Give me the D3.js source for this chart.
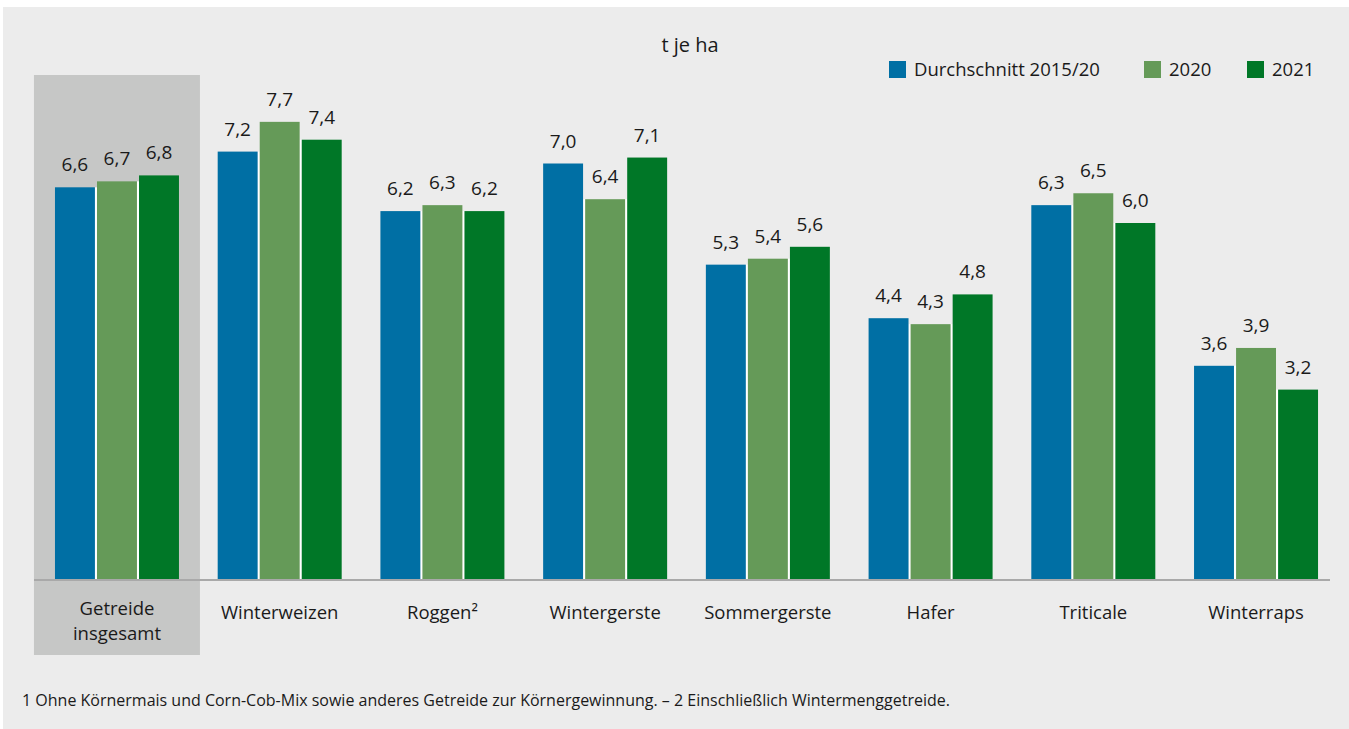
<!DOCTYPE html>
<html>
<head>
<meta charset="utf-8">
<script src="https://cdn.jsdelivr.net/npm/d3@7"></script>
<style>
  body { margin: 0; background: #fff; }
  svg { display: block; }
  text { font-family: "Open Sans", "Noto Sans", sans-serif; fill: #1a1a1a; }
</style>
</head>
<body>
<svg id="chart" width="1349" height="729"></svg>
<script>
var CATEGORIES = ['Getreide insgesamt', 'Winterweizen', 'Roggen²', 'Wintergerste',
  'Sommergerste', 'Hafer', 'Triticale', 'Winterraps'];
var SERIES = ['Durchschnitt 2015/20', '2020', '2021'];
var AVG_2015_20 = [6.6, 7.2, 6.2, 7.0, 5.3, 4.4, 6.3, 3.6];
var YEAR_2020 = [6.7, 7.7, 6.3, 6.4, 5.4, 4.3, 6.5, 3.9];
var YEAR_2021 = [6.8, 7.4, 6.2, 7.1, 5.6, 4.8, 6.0, 3.2];
var COLORS = ['#006fa4', '#659a58', '#007727'];

var rows = CATEGORIES.map(function(c, i){
  return { cat: c, values: [AVG_2015_20[i], YEAR_2020[i], YEAR_2021[i]] };
});

var svg = d3.select('#chart');
var W = 1349, H = 729;
var baseY = 580;

svg.append('rect')
  .attr('x', 3).attr('y', 7)
  .attr('width', W - 3).attr('height', H - 7)
  .attr('fill', '#ececec');

var x0 = d3.scaleBand()
  .domain(CATEGORIES)
  .range([35.6, 1337.4])
  .paddingInner(0.238)
  .paddingOuter(0.119);

var x1 = d3.scaleBand()
  .domain(d3.range(SERIES.length))
  .range([0, x0.bandwidth()])
  .paddingInner(0.05);

var y = d3.scaleLinear()
  .domain([0, 8])
  .range([baseY, baseY - 476]);

var fmt = function(v){ return d3.format('.1f')(v).replace('.', ','); };

// highlight box behind the first category
svg.append('rect')
  .attr('x', x0(CATEGORIES[0]) - 21)
  .attr('y', 75)
  .attr('width', x0.bandwidth() + 42)
  .attr('height', 580)
  .attr('fill', '#c6c7c6');

var groups = svg.append('g').selectAll('g')
  .data(rows)
  .join('g')
  .attr('transform', function(d){ return 'translate(' + x0(d.cat) + ',0)'; });

// white separators between neighbouring bars
groups.selectAll('.gap')
  .data(function(d){
    return d.values.slice(1).map(function(v, i){ return { i: i + 1, v: Math.min(v, d.values[i]) }; });
  })
  .join('rect')
  .attr('class', 'gap')
  .attr('x', function(d){ return x1(d.i - 1) + x1.bandwidth(); })
  .attr('y', function(d){ return y(d.v); })
  .attr('width', x1(1) - x1.bandwidth())
  .attr('height', function(d){ return baseY - y(d.v); })
  .attr('fill', '#fff');

groups.selectAll('.bar')
  .data(function(d){ return d.values.map(function(v, i){ return { i: i, v: v }; }); })
  .join('rect')
  .attr('class', 'bar')
  .attr('x', function(d){ return x1(d.i); })
  .attr('y', function(d){ return y(d.v); })
  .attr('width', x1.bandwidth())
  .attr('height', function(d){ return baseY - y(d.v); })
  .attr('fill', function(d){ return COLORS[d.i]; });

groups.selectAll('.val')
  .data(function(d){ return d.values.map(function(v, i){ return { i: i, v: v }; }); })
  .join('text')
  .attr('class', 'val')
  .attr('x', function(d){ return x1(d.i) + x1.bandwidth() / 2; })
  .attr('y', function(d){ return y(d.v) - 16; })
  .attr('text-anchor', 'middle')
  .attr('font-size', 19)
  .text(function(d){ return fmt(d.v); });

// x axis
var axis = svg.append('g')
  .attr('transform', 'translate(0,' + baseY + ')')
  .call(d3.axisBottom(x0).tickSize(0).tickSizeOuter(0).tickPadding(0));

axis.select('.domain')
  .attr('stroke', '#a9a9a9')
  .attr('stroke-width', 2)
  .attr('d', 'M34,0H1330');

axis.selectAll('.tick text').each(function(d){
  var t = d3.select(this);
  t.text(null)
    .attr('font-size', 18.5)
    .attr('font-family', '"Open Sans", "Noto Sans", sans-serif')
    .attr('fill', '#1a1a1a')
    .attr('y', 0)
    .attr('dy', null);
  var words = d === CATEGORIES[0] ? d.split(' ') : [d];
  words.forEach(function(w, k){
    t.append('tspan')
      .attr('x', 0)
      .attr('y', (words.length > 1 ? 35 : 39) + k * 25)
      .text(w);
  });
});

// unit title
svg.append('text')
  .attr('x', 690).attr('y', 52)
  .attr('text-anchor', 'middle')
  .attr('font-size', 20)
  .text('t je ha');

// legend
var LEGEND_X = [889, 1144, 1247];
var legend = svg.append('g').selectAll('g')
  .data(SERIES)
  .join('g')
  .attr('transform', function(d, i){ return 'translate(' + LEGEND_X[i] + ',61)'; });

legend.append('rect')
  .attr('width', 17).attr('height', 17)
  .attr('fill', function(d, i){ return COLORS[i]; });

legend.append('text')
  .attr('x', 25).attr('y', 15)
  .attr('font-size', 18.5)
  .text(function(d){ return d; });

// footnote
svg.append('text')
  .attr('x', 22).attr('y', 706)
  .attr('font-size', 16)
  .text('1 Ohne Körnermais und Corn-Cob-Mix sowie anderes Getreide zur Körnergewinnung. – 2 Einschließlich Wintermenggetreide.');
</script>
</body>
</html>
